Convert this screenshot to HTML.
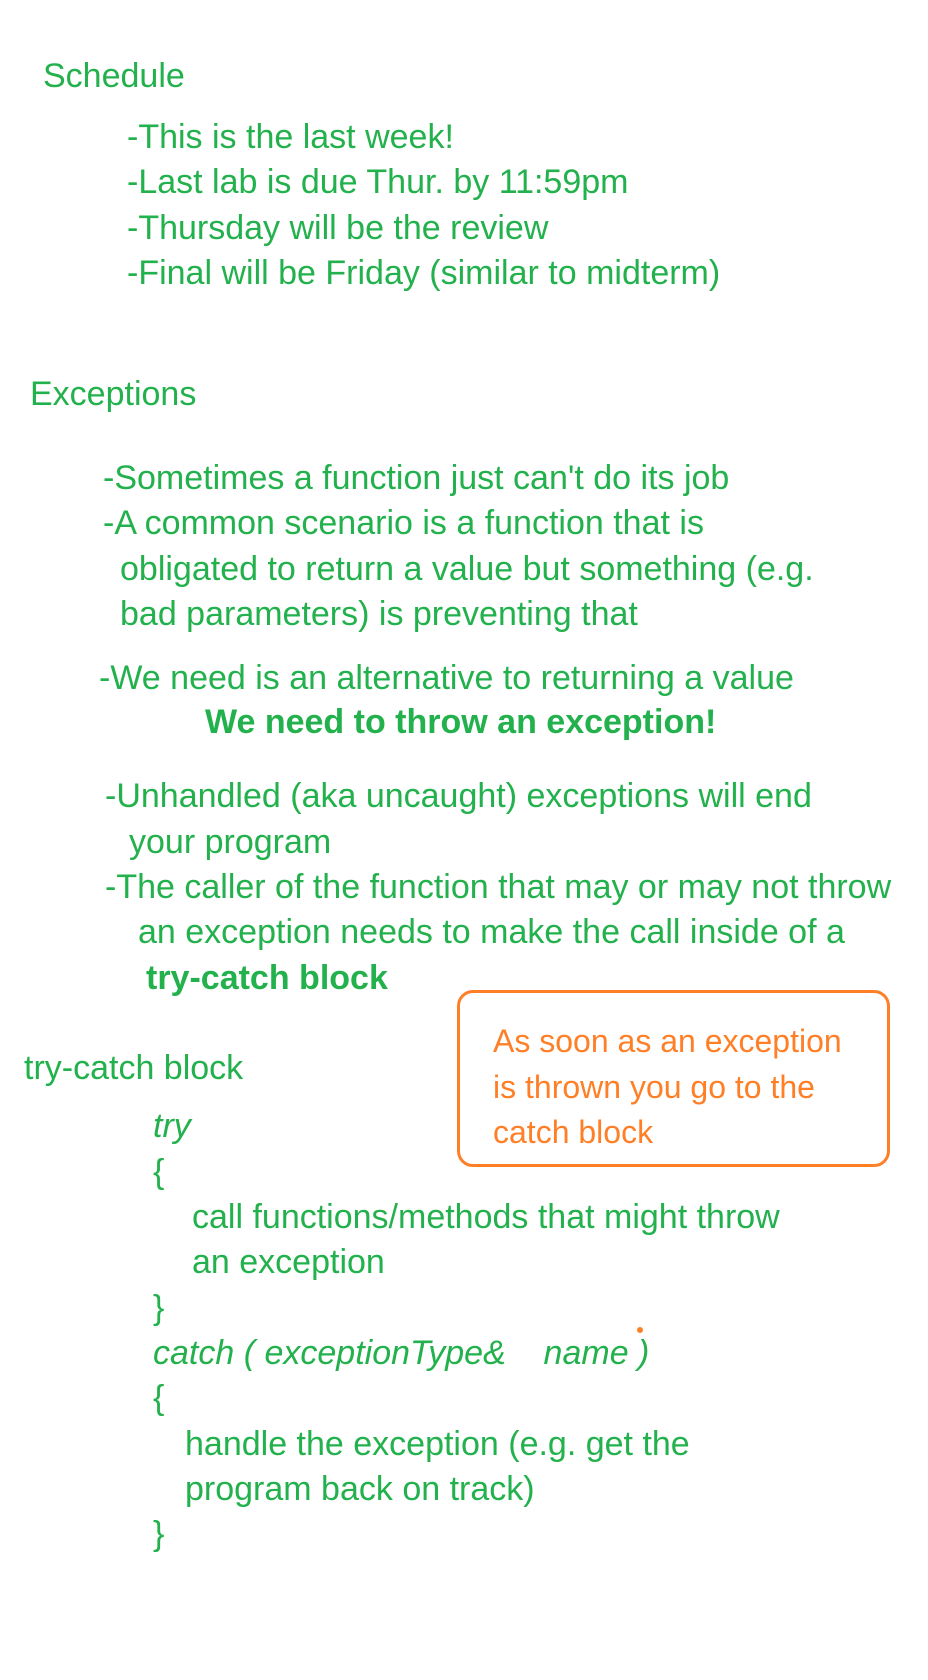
<!DOCTYPE html>
<html><head><meta charset="utf-8">
<style>
html,body{margin:0;padding:0;background:#fff;}
body{width:928px;height:1680px;position:relative;overflow:hidden;font-family:"Liberation Sans",sans-serif;}
.t{position:absolute;color:#22b14c;font-size:34px;line-height:40px;white-space:nowrap;transform:translateY(-20px);}
.o{color:#ff7f27;font-size:32px;}
.i{font-style:italic;}
.b{font-weight:bold;}
#box{position:absolute;left:457px;top:990px;width:427px;height:171px;border:3px solid #ff7f27;border-radius:16px;}
#dot{position:absolute;left:637px;top:1327px;width:6px;height:6px;border-radius:3px;background:#ff7f27;}
</style></head><body>
<div class="t" style="left:43px;top:76px">Schedule</div>
<div class="t" style="left:127px;top:137px">-This is the last week!</div>
<div class="t" style="left:127px;top:182px">-Last lab is due Thur. by 11:59pm</div>
<div class="t" style="left:127px;top:228px">-Thursday will be the review</div>
<div class="t" style="left:127px;top:273px">-Final will be Friday (similar to midterm)</div>

<div class="t" style="left:30px;top:394px">Exceptions</div>
<div class="t" style="left:103px;top:478px">-Sometimes a function just can't do its job</div>
<div class="t" style="left:103px;top:523px">-A common scenario is a function that is</div>
<div class="t" style="left:120px;top:569px">obligated to return a value but something (e.g.</div>
<div class="t" style="left:120px;top:614px">bad parameters) is preventing that</div>
<div class="t" style="left:99px;top:678px">-We need is an alternative to returning a value</div>
<div class="t b" style="left:205px;top:722px">We need to throw an exception!</div>
<div class="t" style="left:105px;top:796px">-Unhandled (aka uncaught) exceptions will end</div>
<div class="t" style="left:129px;top:842px">your program</div>
<div class="t" style="left:105px;top:887px">-The caller of the function that may or may not throw</div>
<div class="t" style="left:138px;top:932px">an exception needs to make the call inside of a</div>
<div class="t b" style="left:146px;top:978px">try-catch block</div>

<div class="t" style="left:24px;top:1068px">try-catch block</div>
<div class="t i" style="left:153px;top:1126px">try</div>
<div class="t" style="left:153px;top:1172px">{</div>
<div class="t" style="left:192px;top:1217px">call functions/methods that might throw</div>
<div class="t" style="left:192px;top:1262px">an exception</div>
<div class="t" style="left:153px;top:1308px">}</div>
<div class="t i" style="left:153px;top:1353px">catch ( exceptionType&amp;&nbsp;&nbsp;&nbsp; name )</div>
<div class="t" style="left:153px;top:1398px">{</div>
<div class="t" style="left:185px;top:1444px">handle the exception (e.g. get the</div>
<div class="t" style="left:185px;top:1489px">program back on track)</div>
<div class="t" style="left:153px;top:1534px">}</div>

<div id="box"></div>
<div class="t o" style="left:493px;top:1041px">As soon as an exception</div>
<div class="t o" style="left:493px;top:1087px">is thrown you go to the</div>
<div class="t o" style="left:493px;top:1132px">catch block</div>
<div id="dot"></div>
</body></html>
